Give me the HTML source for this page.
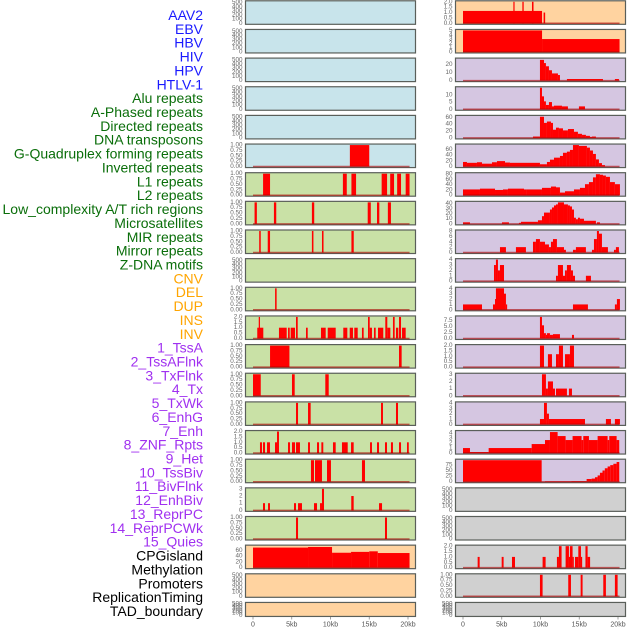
<!DOCTYPE html>
<html><head><meta charset="utf-8">
<style>
html,body{margin:0;padding:0;background:#fff;}
svg{display:block;font-family:"Liberation Sans",sans-serif;}
</style></head>
<body>
<svg id="chart" width="630" height="630" viewBox="0 0 630 630" xmlns="http://www.w3.org/2000/svg"></svg>
<script>
// ---- track names (column-major: left column rows 0..21, then right column rows 0..21)
const trackNames = ["AAV2","EBV","HBV","HIV","HPV","HTLV-1","Alu repeats","A-Phased repeats","Directed repeats","DNA transposons","G-Quadruplex forming repeats","Inverted repeats","L1 repeats","L2 repeats","Low_complexity A/T rich regions","Microsatellites","MIR repeats","Mirror repeats","Z-DNA motifs","CNV","DEL","DUP","INS","INV","1_TssA","2_TssAFlnk","3_TxFlnk","4_Tx","5_TxWk","6_EnhG","7_Enh","8_ZNF_Rpts","9_Het","10_TssBiv","11_BivFlnk","12_EnhBiv","13_ReprPC","14_ReprPCWk","15_Quies","CPGisland","Methylation","Promoters","ReplicationTiming","TAD_boundary"];
const trackGroups = ["virus","virus","virus","virus","virus","virus","repeat","repeat","repeat","repeat","repeat","repeat","repeat","repeat","repeat","repeat","repeat","repeat","repeat","sv","sv","sv","sv","sv","chromhmm","chromhmm","chromhmm","chromhmm","chromhmm","chromhmm","chromhmm","chromhmm","chromhmm","chromhmm","chromhmm","chromhmm","chromhmm","chromhmm","chromhmm","other","other","other","other","other"];

// ---- x-axis ticks (kb)
const xTickValues = [0,5,10,15,20];
const xTickLabels = ["0","5kb","10kb","15kb","20kb"];

// ---- y-axis tick labels per panel
const T500 = ["0","100","200","300","400","500"];
const T1 = ["0.00","0.25","0.50","0.75","1.00"];
const T2 = ["0.0","0.5","1.0","1.5","2.0"];
const panelTicks = [
  T500,T500,T500,T500,T500,T1,T1,T1,T1,T500,T1,T2,T1,T1,T1,T2,T1,["0","1","2","3"],T1,["0","20","40","60"],T500,T500,
  T2,["0","1","2","3","4","5"],["0","10","20"],["0","5","10"],["0","20","40","60"],["0","20","40","60"],["0","20","40","60","80"],["0","10","20","30","40"],["0","2","4","6","8"],["0","1","2","3","4"],["0","1","2","3","4"],["0.0","2.5","5.0","7.5"],T2,["0","1","2","3"],["0","1","2","3","4"],["0","1","2","3","4"],["0","25","50","75"],T500,T500,T2,T1,T500
];
const panelYMax = [
  520,520,520,520,520,1,1,1,1,520,1,2,1,1,1,2,1,3,1,75,520,520,
  2,5,27,15,63,75,82,42,8,4,4,9,2,3,4,4.3,96,520,520,2,1,520
];

// ---- bar data: [startKb, endKb, value]
const htlv1Bars = [[12.5,15.0,1]];
const aluBars = [[1.3,2.2,1],[11.6,12.1,1],[12.7,13.3,1],[16.6,17.3,1],[17.7,18.2,1],[18.6,19.1,1],[19.7,20.2,1]];
const aphasedBars = [[0.2,0.5,1],[2.7,3.0,1],[7.6,7.9,1],[14.8,15.2,1],[16.0,16.3,1],[17.4,17.8,1]];
const directedBars = [[0.8,1.0,1],[1.9,2.2,1],[7.6,7.8,1],[8.9,9.1,1],[12.7,13.0,1]];
const gquadBars = [[2.85,3.05,1]];
const invertedBars = [[0.55,1.33,1],[0.74,0.9,2],[3.35,4.35,1],[4.52,4.74,1],[4.86,5.42,1],[5.55,5.77,2],[6.84,7.06,1],[8.77,9.38,1],[9.64,10.67,1],[11.65,12.17,1],[12.48,12.9,1],[13.07,13.51,1],[14.06,14.28,1],[14.84,15.06,2],[15.06,15.35,1],[15.61,15.83,1],[16.13,16.81,1],[17.07,17.33,2],[17.33,17.72,1],[18.06,18.28,2],[18.45,18.75,1],[18.84,19.1,2],[19.23,19.7,1]];
const l1Bars = [[2.2,4.7,1],[18.84,19.18,1]];
const l2Bars = [[0,1.0,1],[5.03,5.38,1],[9.33,9.77,1]];
const lowComplexBars = [[5.55,5.81,1],[7.1,7.44,1],[16.52,16.77,1],[18.45,18.71,1]];
const microsatBars = [[0.9,1.16,1],[1.29,1.55,1],[1.81,2.19,1],[2.84,3.1,1],[3.1,3.35,2],[4.52,4.77,1],[5.03,5.42,1],[5.55,6.06,1],[7.1,7.35,1],[8.26,8.52,1],[8.82,9.07,1],[10.32,10.67,1],[11.48,11.87,1],[11.87,12.22,1],[12.65,12.99,1],[15.1,15.35,1],[16.0,16.26,1],[17.03,17.29,1],[17.8,18.06,1],[18.84,19.1,1],[19.87,20.1,1]];
const mirBars = [[7.48,7.87,1],[8.0,8.9,1],[9.55,10.06,1],[14.06,14.45,1]];
const mirrorBars = [[1.29,1.55,1],[1.94,2.19,1],[5.29,5.55,1],[5.81,6.32,1],[7.87,8.26,1],[8.65,8.9,1],[8.9,9.16,3],[12.68,12.99,2],[16.26,16.65,1]];
const zdnaBars = [[5.55,5.81,1],[17.03,17.29,1]];
const cnvBars = [[0,7.1,70],[7.1,10.2,72],[10.2,12.65,52],[12.65,15.0,55],[15.0,16.1,57],[16.1,20.2,51]];
const insBars = [[0,10.2,1.15],[6.5,6.65,2],[7.66,7.83,2],[8.9,9.1,2],[10.4,10.6,1]];
const invBars = [[0,10.2,5],[10.2,20.2,3]];
const tssaBars = [[9.93,10.45,26],[10.45,10.7,22],[10.7,11.09,18],[11.09,11.48,13],[11.48,12.25,9],[12.25,12.51,7],[13.41,18.06,2],[19.6,20.12,2]];
const tssaflnkBars = [[9.93,10.19,15],[10.19,10.45,9],[10.45,10.7,5.5],[10.7,11.09,3],[11.09,11.48,5],[11.48,11.74,2],[11.74,12.77,2.5],[12.77,13.54,2],[14.96,15.74,2]];
const txflnkBars = [[9.03,9.93,4],[9.93,10.45,62],[10.45,10.83,44],[10.83,11.35,48],[11.35,11.61,44],[11.61,12.0,24],[12.0,12.38,30],[12.38,12.9,28],[12.9,13.54,22],[13.54,14.32,26],[14.32,14.83,18],[14.83,15.35,12],[15.35,15.86,9],[15.86,16.38,6],[16.38,16.64,3],[16.64,17.15,4]];
const txBars = [[0,0.51,16],[0.51,1.8,13],[1.8,2.45,15],[2.45,3.74,10],[3.74,4.38,15],[4.38,5.42,19],[5.42,6.06,14],[6.06,9.93,13],[9.93,10.83,8],[10.83,11.22,16],[11.22,11.74,24],[11.74,12.51,31],[12.51,12.9,37],[12.9,13.41,48],[13.41,13.8,52],[13.8,14.19,58],[14.19,14.96,75],[14.96,15.99,72],[15.99,16.38,66],[16.38,16.77,56],[16.77,17.15,44],[17.15,17.54,25],[17.54,17.93,12],[17.93,18.32,5]];
const txwkBars = [[0,2.19,22],[2.19,4.13,25],[4.13,5.16,20],[5.16,5.8,22],[5.8,7.87,25],[7.87,8.25,22],[8.25,10.19,22],[10.19,11.35,28],[11.35,12.0,33],[12.0,12.51,30],[12.51,13.16,10],[13.16,14.32,15],[14.32,15.09,22],[15.09,15.74,28],[15.74,16.25,42],[16.25,16.77,50],[16.77,17.15,68],[17.15,17.67,80],[17.67,18.06,78],[18.06,18.44,75],[18.44,18.96,70],[18.96,19.6,50],[19.6,20.25,42]];
const enhgBars = [[0,0.9,3],[5.03,5.93,3],[7.22,7.48,2],[7.48,9.67,4],[9.67,10.19,7],[10.19,10.45,15],[10.45,11.22,22],[11.22,11.48,28],[11.48,11.74,32],[11.74,12.0,36],[12.0,12.25,38],[12.25,13.03,42],[13.03,13.54,38],[13.54,13.8,36],[13.8,14.06,34],[14.06,14.32,28],[14.32,14.57,12],[14.57,14.83,9],[14.83,15.09,12],[15.09,15.61,10],[15.61,17.15,6],[17.28,17.67,3]];
const enhBars = [[4.77,5.54,2],[6.83,8.12,2],[9.03,9.41,4],[9.41,9.93,5],[9.93,10.58,4],[10.58,11.09,3],[11.09,11.35,2],[11.35,11.61,4],[11.61,12.12,5],[12.12,13.03,2],[13.03,13.28,1],[14.19,14.57,1],[14.57,15.86,2],[16.64,16.9,1],[16.9,17.28,5],[17.28,17.54,8],[17.54,17.93,7],[17.93,18.7,2],[19.48,19.73,1],[19.73,20.12,2]];
const znfBars = [[4.0,4.25,3],[4.25,4.51,4],[4.51,4.77,2],[4.77,5.29,3],[12.0,12.25,1],[12.25,12.9,3],[12.9,13.16,1],[13.16,13.41,2],[13.41,13.93,3],[13.93,14.19,2],[14.19,14.45,1],[15.86,16.51,1]];
const hetBars = [[0,2.45,1],[3.87,4.13,1],[4.13,4.25,2],[4.25,5.29,4],[5.29,5.54,3],[5.54,5.67,1],[14.19,16.12,1],[19.6,19.86,1],[19.86,20.25,2]];
const tssbivBars = [[9.93,10.19,9],[10.19,10.45,5.5],[10.45,10.7,2.2],[10.7,10.83,1.5],[10.83,11.22,2.2],[11.22,11.61,1.5],[11.61,12.51,1.8],[14.06,14.32,1.5]];
const bivflnkBars = [[9.93,10.45,2],[10.96,11.48,1.2],[12.0,12.38,1.2],[12.38,12.9,2],[13.16,13.8,1.2],[13.8,14.32,2]];
const enhbivBars = [[10.19,10.7,3],[10.7,10.96,1],[10.96,11.61,2],[11.61,11.87,1],[12.0,13.41,1],[13.67,14.06,1]];
const reprpcBars = [[9.93,10.45,1],[10.45,10.83,4],[10.83,11.09,2],[11.09,15.74,1],[18.44,19.09,1],[19.6,20.25,1]];
const reprpcwkBars = [[0,0.9,1],[0.9,3.31,0.2],[3.31,8.86,1],[8.86,10.58,1.8],[10.58,11.22,2.6],[11.22,12.21,4.2],[12.21,13.24,3.4],[13.24,14.14,2.6],[14.14,15.3,3.4],[15.3,15.52,2.6],[15.52,16.25,3.4],[16.25,17.37,2.6],[17.37,18.66,3.4],[18.66,18.87,2.6],[18.87,19.82,3.4],[19.82,20.16,2.6]];
const quiesBars = [[0,10.15,96],[10.58,14.0,2],[14.0,15.95,3],[15.95,16.6,12],[16.6,17.03,14],[17.03,17.37,20],[17.37,17.67,28],[17.67,18.0,40],[18.0,18.3,50],[18.3,18.66,60],[18.66,19.0,68],[19.0,19.4,74],[19.4,19.82,80],[19.82,20.16,88]];
const promoterBars = [[1.89,2.15,1],[4.99,5.24,1],[6.32,6.71,1],[10.27,10.66,1],[12.12,12.38,1],[12.38,12.72,2],[13.24,13.67,2],[13.67,13.8,1],[13.8,14.14,2],[14.14,14.3,1],[14.45,14.88,1],[14.88,15.22,2],[15.22,15.3,1],[15.8,16.08,2],[16.08,16.4,1]];
const repTimingBars = [[9.93,10.27,1],[13.58,13.93,1],[15.18,15.43,1],[18.1,18.44,1],[19.6,19.95,1]];

const panelBars = [
  null,null,null,null,null,htlv1Bars,aluBars,aphasedBars,directedBars,null,gquadBars,invertedBars,l1Bars,l2Bars,lowComplexBars,microsatBars,mirBars,mirrorBars,zdnaBars,cnvBars,null,null,
  insBars,invBars,tssaBars,tssaflnkBars,txflnkBars,txBars,txwkBars,enhgBars,enhBars,znfBars,hetBars,tssbivBars,bivflnkBars,enhbivBars,reprpcBars,reprpcwkBars,quiesBars,null,null,promoterBars,repTimingBars,null
];
const panelBg = ["#c8e4eb","#c8e4eb","#c8e4eb","#c8e4eb","#c8e4eb","#c8e4eb",
  "#c9e1a6","#c9e1a6","#c9e1a6","#c9e1a6","#c9e1a6","#c9e1a6","#c9e1a6","#c9e1a6","#c9e1a6","#c9e1a6","#c9e1a6","#c9e1a6","#c9e1a6",
  "#ffd3a0","#ffd3a0","#ffd3a0","#ffd3a0","#ffd3a0",
  "#d5c6e1","#d5c6e1","#d5c6e1","#d5c6e1","#d5c6e1","#d5c6e1","#d5c6e1","#d5c6e1","#d5c6e1","#d5c6e1","#d5c6e1","#d5c6e1","#d5c6e1","#d5c6e1","#d5c6e1",
  "#d0d0d0","#d0d0d0","#d0d0d0","#d0d0d0","#d0d0d0"];
const groupColor = {virus:"#1a1aff",repeat:"#0a6e0a",sv:"#ffa500",chromhmm:"#a030f0",other:"#000000"};

const NS = "http://www.w3.org/2000/svg";
const svg = document.getElementById("chart");
function mk(tag, attrs, parent){
  const e = document.createElementNS(NS, tag);
  for (const k in attrs) e.setAttribute(k, attrs[k]);
  (parent||svg).appendChild(e);
  return e;
}
const COLX = [245,455], COLW = 171, ZERO = [253,463], KBW = 155/20;
function xScale(col, kb){ return ZERO[col] + kb*KBW; }
function rowTop(r){ return 0.3 + 28.65*r; }
function rowH(r){ return r===21 ? 15 : 24.5; }
function yScale(i, v){
  const r = i%22, top = rowTop(r), h = rowH(r);
  const base = top + h - 1.5;
  return base - v/panelYMax[i]*(h-3);
}

// labels
trackNames.forEach((n,k)=>{
  const t = mk("text",{x:203,y:15+13.86*k,"text-anchor":"end","dominant-baseline":"central","font-size":"14",fill:groupColor[trackGroups[k]]});
  
  
  t.textContent = n;
});

// panels
for (let i=0;i<44;i++){
  const col = i<22?0:1, r = i%22;
  const top = rowTop(r), h = rowH(r);
  const g = mk("g",{});
  
  
  const bg = mk("rect",{x:COLX[col]+0.5,y:top+0.5,width:COLW-1,height:h-1,fill:panelBg[i],stroke:"#5a5f5a","stroke-width":"1.2"},g);
  
  
  // y ticks
  panelTicks[i].forEach(lbl=>{
    const v = parseFloat(lbl);
    const yy = yScale(i,v);
    const tt = mk("text",{x:COLX[col]-2.5,y:yy,"text-anchor":"end","dominant-baseline":"central","font-size":"6.3",fill:"#666"},g);
    
    
    tt.textContent = lbl;
  });
  const bars = panelBars[i];
  if (bars){
    const base = top + h - 1.5;
    bars.forEach(b=>{
      const x1 = xScale(col,b[0]), x2 = xScale(col,b[1]);
      const y1 = yScale(i,b[2]);
      const rc = mk("rect",{x:x1,y:y1,width:Math.max(1.2,x2-x1),height:Math.max(0.4,base-y1),fill:"#ff0000"},g);
      
      
    });
    const bl = mk("line",{x1:xScale(col,0),x2:xScale(col,20.2),y1:base,y2:base,stroke:"rgba(170,0,0,0.6)","stroke-width":"1.5"},g);
    
    
  }
}

// x axes
[0,1].forEach(col=>{
  xTickValues.forEach((v,j)=>{
    const x = xScale(col,v);
    const tk = mk("line",{x1:x,x2:x,y1:617,y2:619.5,stroke:"#888","stroke-width":"0.8"});
    
    
    const tl = mk("text",{x:x,y:625,"text-anchor":"middle","dominant-baseline":"central","font-size":"7",fill:"#555"});
    
    
    tl.textContent = xTickLabels[j];
  });
});
</script>
</body></html>
